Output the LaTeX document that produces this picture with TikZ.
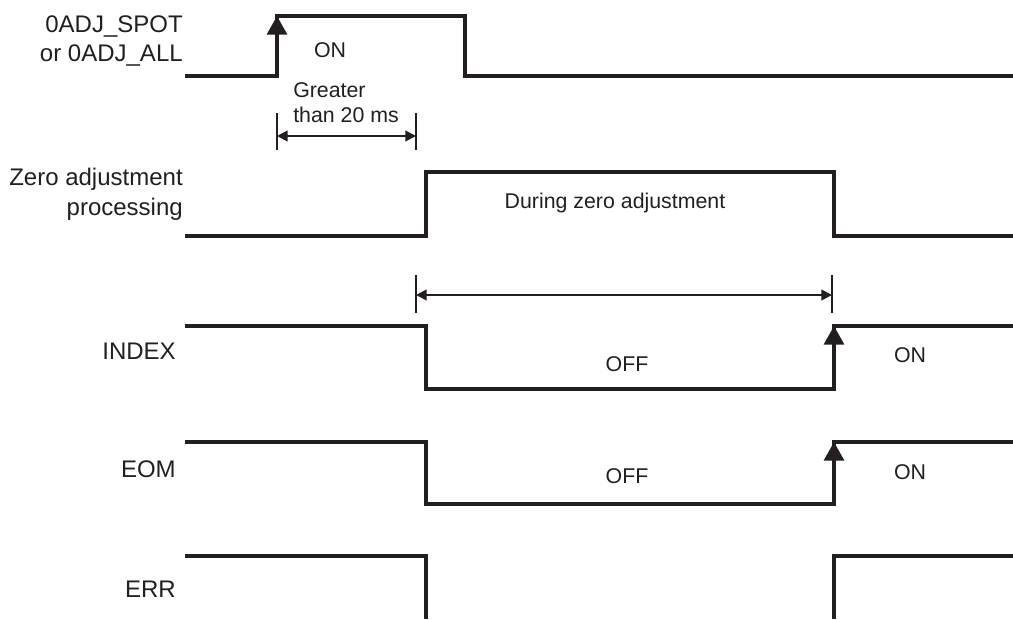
\documentclass[tikz,border=0pt]{standalone}
\usepackage{fontspec}
\setmainfont{Liberation Sans}
\usepackage{tikz}
\usetikzlibrary{arrows.meta}
\definecolor{ink}{HTML}{231F20}
\tikzset{wave/.style={line width=2.4pt,ink,line join=miter},
  edge/.style={wave,-{Triangle[width=15pt,length=14pt]}},
  dimline/.style={line width=1.5pt,ink,{Triangle[width=8pt,length=8pt]}-{Triangle[width=8pt,length=8pt]}},
  tickline/.style={line width=1.4pt,ink},
  lbl/.style={font=\fontsize{16}{20}\selectfont,inner sep=0pt,text=ink,anchor=base},
  signame/.style={font=\fontsize{18}{22}\selectfont,inner sep=0pt,text=ink,anchor=base east}}
\begin{document}
\begin{tikzpicture}[x=0.75pt,y=-0.75pt]
\useasboundingbox (0,0) rectangle (1013,619);
% signal names
\node[signame] (nadj1) at (183,32) {0ADJ\_SPOT}; \node[signame] (nadj2) at (183,61) {or 0ADJ\_ALL};
\node[signame] (nproc1) at (183,185) {Zero adjustment}; \node[signame] (nproc2) at (183,215) {processing};
\node[signame] (nidx) at (176,359) {INDEX}; \node[signame] (neom) at (176,477) {EOM}; \node[signame] (nerr) at (176,597) {ERR};
% 0ADJ_SPOT / 0ADJ_ALL
\draw[wave] (185,76) -- (277,76) -- (277,16) -- (465,16) -- (465,76) -- (1013,76);
\draw[edge] (277,76) -- (277,16);
\node[lbl] (on1) at (330,57) {ON};
\node[lbl,anchor=base west] (gt1) at (293,97) {Greater};
\node[lbl,anchor=base west] (gt2) at (293,122) {than 20 ms};
\draw[tickline] (277,113) -- (277,150); \draw[tickline] (416,113) -- (416,150);
\coordinate (g1) at (277,136); \coordinate (g2) at (416,136);
\draw[dimline] (g1) -- (g2);
% zero adjustment processing
\draw[wave] (185,236) -- (426,236) -- (426,172) -- (834,172) -- (834,236) -- (1013,236);
\node[lbl] (dur) at (615,208) {During zero adjustment};
\draw[tickline] (416,275) -- (416,313); \draw[tickline] (832,275) -- (832,313);
\coordinate (d1) at (416,295); \coordinate (d2) at (832,295);
\draw[dimline] (d1) -- (d2);
% INDEX
\draw[wave] (185,326) -- (426,326) -- (426,389) -- (834,389) -- (834,326) -- (1013,326);
\draw[edge] (834,389) -- (834,326);
\node[lbl] (off1) at (627,371) {OFF}; \node[lbl] (on2) at (910,362) {ON};
% EOM
\draw[wave] (185,442) -- (426,442) -- (426,504) -- (834,504) -- (834,442) -- (1013,442);
\draw[edge] (834,504) -- (834,442);
\node[lbl] (off2) at (627,483) {OFF}; \node[lbl] (on3) at (910,479) {ON};
% ERR
\draw[wave] (185,556) -- (426,556) -- (426,619);
\draw[wave] (834,619) -- (834,556) -- (1013,556);
\end{tikzpicture}
\end{document}
